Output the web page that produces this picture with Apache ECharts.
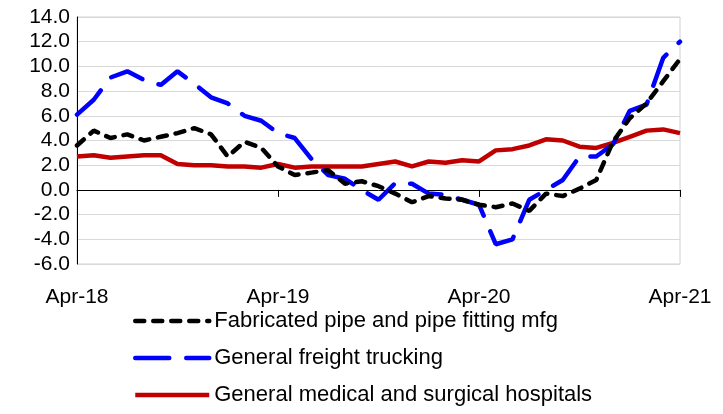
<!DOCTYPE html>
<html>
<head>
<meta charset="utf-8">
<script src="https://cdn.jsdelivr.net/npm/echarts@6/dist/echarts.min.js"></script>
<style>
html,body{margin:0;padding:0;background:#fff;}
#chart{width:723px;height:414px;}
</style>
</head>
<body>
<div id="chart"></div>
<script>
var months = ['Apr-18','May-18','Jun-18','Jul-18','Aug-18','Sep-18','Oct-18','Nov-18','Dec-18','Jan-19','Feb-19','Mar-19',
	'Apr-19','May-19','Jun-19','Jul-19','Aug-19','Sep-19','Oct-19','Nov-19','Dec-19','Jan-20','Feb-20','Mar-20',
	'Apr-20','May-20','Jun-20','Jul-20','Aug-20','Sep-20','Oct-20','Nov-20','Dec-20','Jan-21','Feb-21','Mar-21','Apr-21'];
var seriesNames = ['Fabricated pipe and pipe fitting mfg','General freight trucking','General medical and surgical hospitals'];
var pipeData = [3.6, 4.8, 4.2, 4.5, 4.0, 4.3, 4.6, 5.0, 4.5, 2.7, 3.9, 3.4, 1.9, 1.2, 1.4, 1.6, 0.5, 0.7, 0.3, -0.3,
	-1.0, -0.5, -0.7, -0.8, -1.2, -1.4, -1.1, -1.7, -0.3, -0.5, 0.1, 0.8, 3.9, 5.8, 7.0, 8.8, 10.6];
var truckData = [6.1, 7.3, 9.1, 9.6, 8.9, 8.5, 9.6, 8.6, 7.5, 7.0, 6.0, 5.6, 4.6, 4.2, 2.5, 1.2, 0.9, 0.0, -0.8, 0.55,
	0.5, -0.3, -0.4, -0.8, -1.2, -4.4, -4.0, -0.8, 0.0, 0.8, 2.7, 2.7, 3.7, 6.4, 6.9, 10.7, 12.0];
var hospData = [2.7, 2.8, 2.6, 2.7, 2.8, 2.8, 2.1, 2.0, 2.0, 1.9, 1.9, 1.8, 2.1, 1.8, 1.9, 1.9, 1.9, 1.9, 2.1, 2.3,
	1.9, 2.3, 2.2, 2.4, 2.3, 3.2, 3.3, 3.6, 4.1, 4.0, 3.5, 3.4, 3.8, 4.3, 4.8, 4.9, 4.6];

var fontName = 'Liberation Sans';
var myChart = echarts.init(document.getElementById('chart'));

//只在每年四月显示标签和刻度
function everyYear(i){ return i % 12 === 0; }

var option = {
	animation: false,
	grid: {
		left: 77, right: 43, top: 17, bottom: 150,
		show: true, borderColor: '#d0d0d0', borderWidth: 1
	},
	legend: {
		orient: 'vertical',
		left: 133,
		top: 310,
		padding: 0,
		itemWidth: 74,
		itemHeight: 20,
		itemGap: 15,
		itemStyle: { opacity: 0 },
		lineStyle: { width: 4.5 },
		textStyle: { fontFamily: fontName, fontSize: 22, color: '#000' },
		data: seriesNames
	},
	xAxis: [
		{
			type: 'category',
			data: months,
			boundaryGap: false,
			position: 'bottom',
			axisLine: { show: false, onZero: false },
			axisTick: { show: false },
			axisLabel: { interval: everyYear, margin: 23, fontFamily: fontName, fontSize: 21, color: '#000' },
			splitLine: { show: false }
		},
		{
			type: 'category',
			data: months,
			boundaryGap: false,
			position: 'bottom',
			axisLine: { show: true, onZero: true, lineStyle: { color: '#000', width: 1 } },
			axisTick: { show: true, interval: everyYear, length: 7, lineStyle: { color: '#000' } },
			axisLabel: { show: false },
			splitLine: { show: false }
		}
	],
	yAxis: {
		type: 'value',
		min: -6,
		max: 14,
		interval: 2,
		axisLine: { show: true, lineStyle: { color: '#000', width: 1 } },
		axisTick: { show: false },
		axisLabel: {
			margin: 7,
			fontFamily: fontName, fontSize: 21, color: '#000',
			formatter: function(v){ return v.toFixed(1); }
		},
		splitLine: { lineStyle: { color: '#d9d9d9', width: 1 } }
	},
	series: [
		{
			name: seriesNames[2],
			type: 'line',
			data: hospData,
			symbol: 'none',
			z: 2,
			lineStyle: { color: '#c00000', width: 4.5 },
			itemStyle: { color: '#c00000' }
		},
		{
			name: seriesNames[1],
			type: 'line',
			data: truckData,
			symbol: 'none',
			z: 3,
			lineStyle: { color: '#0000ff', width: 4.5, type: [34, 17], cap: 'round' },
			itemStyle: { color: '#0000ff' }
		},
		{
			name: seriesNames[0],
			type: 'line',
			data: pipeData,
			symbol: 'none',
			z: 4,
			lineStyle: { color: '#000', width: 4.5, type: [9, 9], cap: 'round' },
			itemStyle: { color: '#000' }
		}
	]
};
myChart.setOption(option);
</script>
</body>
</html>
